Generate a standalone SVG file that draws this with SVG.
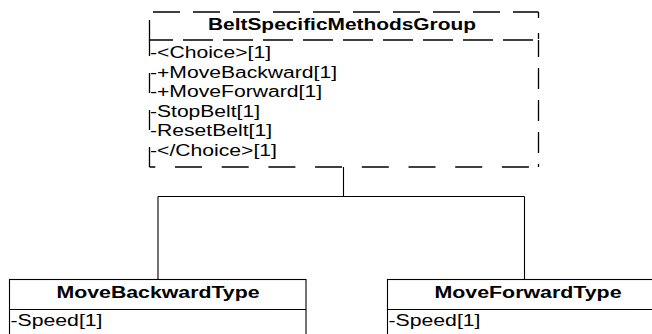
<svg xmlns="http://www.w3.org/2000/svg" width="652" height="334" viewBox="0 0 652 334">
<style>
  .bg { fill: #ffffff; }
  .dash { fill: none; stroke: #000000; stroke-width: 1.3; }
  .box { fill: #ffffff; stroke: #000000; stroke-width: 1.1; }
  .conn { fill: none; stroke: #000000; stroke-width: 1.1; }
  .title { font-family: "Liberation Sans", Arial, sans-serif; font-size: 16px; font-weight: bold; fill: #000000; }
  .attr { font-family: "Liberation Sans", Arial, sans-serif; font-size: 16px; fill: #000000; }
</style>
<rect class="bg" x="0" y="0" width="652" height="334"/>
<g id="connectors">
  <path class="conn" d="M343.5,167 V196.5 M158,196.5 H524.5 M158,196.5 V279.5 M524.5,196.5 V279.5"/>
</g>
<g id="BeltSpecificMethodsGroup">
  <line class="dash" x1="149.5" y1="12" x2="538.5" y2="12" stroke-dasharray="27 13" stroke-dashoffset="36.5"/>
  <line class="dash" x1="149.5" y1="20" x2="149.5" y2="40"/>
  <line class="dash" x1="538.5" y1="12" x2="538.5" y2="40" stroke-dasharray="6 15"/>
  <line class="dash" x1="149.5" y1="40" x2="538.5" y2="40" stroke-dasharray="30 10" stroke-dashoffset="6.5"/>
  <line class="dash" x1="149.5" y1="167" x2="149.5" y2="40" stroke-dasharray="20 17"/>
  <line class="dash" x1="538.5" y1="40" x2="538.5" y2="167" stroke-dasharray="21 11" stroke-dashoffset="4"/>
  <line class="dash" x1="149.5" y1="167" x2="538.5" y2="167" stroke-dasharray="27 19.7" stroke-dashoffset="21.2"/>
  <text class="title" x="342" y="30" text-anchor="middle" textLength="268" lengthAdjust="spacingAndGlyphs">BeltSpecificMethodsGroup</text>
  <text class="attr" x="150" y="58" textLength="121" lengthAdjust="spacingAndGlyphs">-&lt;Choice&gt;[1]</text>
  <text class="attr" x="150" y="77.6" textLength="187" lengthAdjust="spacingAndGlyphs">-+MoveBackward[1]</text>
  <text class="attr" x="150" y="97.2" textLength="172" lengthAdjust="spacingAndGlyphs">-+MoveForward[1]</text>
  <text class="attr" x="150" y="116.8" textLength="110" lengthAdjust="spacingAndGlyphs">-StopBelt[1]</text>
  <text class="attr" x="150" y="136.4" textLength="122" lengthAdjust="spacingAndGlyphs">-ResetBelt[1]</text>
  <text class="attr" x="150" y="156" textLength="127" lengthAdjust="spacingAndGlyphs">-&lt;/Choice&gt;[1]</text>
</g>
<g id="MoveBackwardType">
  <rect class="box" x="9.5" y="279.5" width="296.5" height="70"/>
  <line class="box" x1="9.5" y1="309.5" x2="306" y2="309.5"/>
  <text class="title" x="158" y="297.5" text-anchor="middle" textLength="203" lengthAdjust="spacingAndGlyphs">MoveBackwardType</text>
  <text class="attr" x="10.5" y="326" textLength="92" lengthAdjust="spacingAndGlyphs">-Speed[1]</text>
</g>
<g id="MoveForwardType">
  <rect class="box" x="387.5" y="279.5" width="281" height="70"/>
  <line class="box" x1="387.5" y1="309.5" x2="668.5" y2="309.5"/>
  <text class="title" x="528" y="297.5" text-anchor="middle" textLength="187" lengthAdjust="spacingAndGlyphs">MoveForwardType</text>
  <text class="attr" x="388.5" y="326" textLength="92" lengthAdjust="spacingAndGlyphs">-Speed[1]</text>
</g>
</svg>
